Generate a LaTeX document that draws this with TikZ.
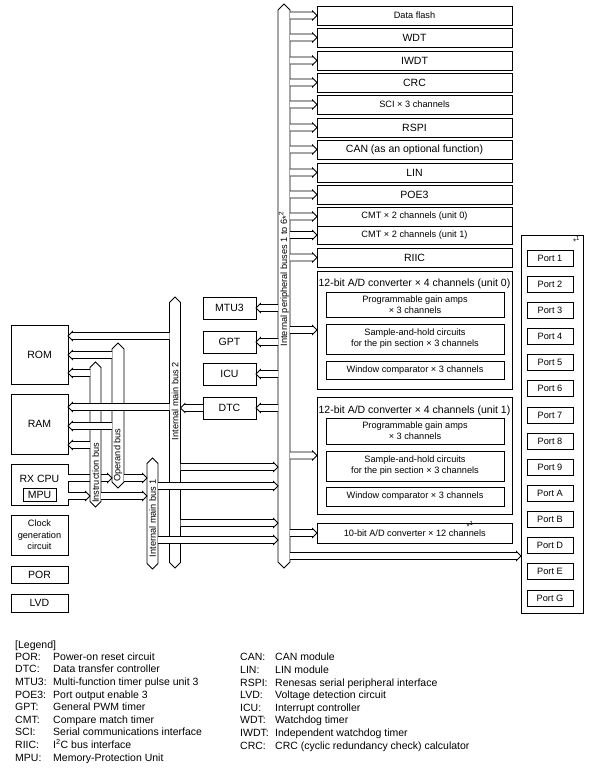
\documentclass[tikz,border=0pt]{standalone}
\usepackage{fontspec}
\setmainfont{Liberation Sans}
\usetikzlibrary{calc}
\tikzset{
  lw/.style={line width=0.75pt},
  big/.style={font=\fontsize{10.5}{12.5}\selectfont},
  small/.style={font=\fontsize{9.2}{11.2}\selectfont},
  box/.style={draw, lw, inner sep=0pt, outer sep=0pt, align=center, fill=white},
  busbody/.style={inner sep=0pt, outer sep=0pt},
  busline/.style={draw, lw, fill=white, line join=miter},
  barr/.style={draw, lw, fill=white, line join=miter},
  buslabel/.style={small, rotate=90, inner sep=0pt},
  note/.style={font=\fontsize{8}{8}\selectfont, inner sep=0pt},
  legtext/.style={anchor=base west, inner sep=0pt, font=\fontsize{10.5}{12.5}\selectfont},
}
\newcommand\starnote[1]{\raisebox{-0.35ex}{*}\textsuperscript{#1}}
\newcommand\boxat[7]{\node[box,#6,minimum width={(#4)-(#2)},minimum height={(#5)-(#3)}] (#1) at ({((#2)+(#4))/2},{((#3)+(#5))/2}) {#7};}
\newcommand\busat[6]{%
  \node[busbody,minimum width={(#4)-(#2)},minimum height={(#5)-(#3)}] (#1) at ({((#2)+(#4))/2},{((#3)+(#5))/2}) {};
  \path[busline] (#1.north) -- ($(#1.north east)+(0,#6)$) -- ($(#1.south east)+(0,-#6)$) -- (#1.south) -- ($(#1.south west)+(0,-#6)$) -- ($(#1.north west)+(0,#6)$) -- cycle;}
\newcommand\barrow[2]{%
  \path[barr] let \p1=(#1), \p2=(#2), \n1={ifthenelse(\x2>\x1,1,-1)} in
    (\x1,\y1+3.5pt) -- (\x2-\n1*4.5,\y1+3.5pt) -- (\x2-\n1*4.5,\y1+4.5pt) -- (\x2,\y1)
    -- (\x2-\n1*4.5,\y1-4.5pt) -- (\x2-\n1*4.5,\y1-3.5pt) -- (\x1,\y1-3.5pt);}
\begin{document}
\begin{tikzpicture}[x=1pt,y=-1pt]
\useasboundingbox (0,0) rectangle (593,772);

% ---------- buses ----------
\busat{pb}{278}{4}{290}{568}{6}
\busat{mb2}{169.5}{297}{180.5}{568}{5.5}
\busat{mb1}{147}{458}{158}{569}{5.5}
\busat{ob}{112}{343}{124}{488}{6}

% ---------- left blocks ----------
\boxat{rom}{11}{325}{68}{384}{big}{ROM}
\boxat{ram}{11}{394}{68}{454}{big}{RAM}
\boxat{cpu}{11}{464}{68}{505}{big}{}
\node[big] (cpul) at (39.5,479) {RX CPU};
\boxat{mpu}{23}{488}{56}{501}{big}{MPU}
\boxat{cgc}{11}{515}{68}{555}{font=\fontsize{9.2}{11.5}\selectfont}{Clock\\generation\\circuit}
\boxat{por}{11}{566}{68}{583}{big}{POR}
\boxat{lvd}{11}{594}{68}{612}{big}{LVD}

% CPU -> operand bus (passes behind the instruction bus)
\barrow{cpu.east |- 0,478}{ob.west |- 0,478}
\busat{ib}{90}{362}{101}{507}{5.5}

% ---------- peripheral blocks ----------
\boxat{df}{317}{6}{512}{25}{small}{Data flash}
\boxat{wdt}{317}{28}{512}{47}{big}{WDT}
\boxat{iwdt}{317}{51}{512}{70}{big}{IWDT}
\boxat{crc}{317}{73}{512}{92}{big}{CRC}
\boxat{sci}{317}{95}{512}{114}{small}{SCI × 3 channels}
\boxat{rspi}{317}{118}{512}{137}{big}{RSPI}
\boxat{can}{317}{140}{512}{159}{big}{CAN (as an optional function)}
\boxat{lin}{317}{163}{512}{182}{big}{LIN}
\boxat{poe}{317}{185}{512}{204}{big}{POE3}
\boxat{cmta}{317}{207}{512}{226}{small}{CMT × 2 channels (unit 0)}
\boxat{cmtb}{317}{226}{512}{244}{small}{CMT × 2 channels (unit 1)}
\boxat{riic}{317}{248}{512}{267}{big}{RIIC}

\boxat{adca}{317}{271}{512.5}{389}{}{}
\node[big] (adcat) at (414.5,284) {12-bit A/D converter × 4 channels (unit 0)};
\boxat{pgaa}{326}{292}{504}{317}{small}{Programmable gain amps\\× 3 channels}
\boxat{sha}{326}{324}{504}{354}{small}{Sample-and-hold circuits\\for the pin section × 3 channels}
\boxat{wca}{326}{361}{504}{379}{small}{Window comparator × 3 channels}

\boxat{adcb}{317}{397}{512.5}{514}{}{}
\node[big] (adcbt) at (414.5,411) {12-bit A/D converter × 4 channels (unit 1)};
\boxat{pgab}{326}{418}{504}{444}{small}{Programmable gain amps\\× 3 channels}
\boxat{shb}{326}{451}{504}{481}{small}{Sample-and-hold circuits\\for the pin section × 3 channels}
\boxat{wcb}{326}{487}{504}{506}{small}{Window comparator × 3 channels}

\boxat{adcc}{317}{523}{512.5}{543}{small}{10-bit A/D converter × 12 channels}
\node[note] (adccn) at (470,525.5) {\starnote{1}};

\boxat{mtu}{203}{297}{256}{319}{big}{MTU3}
\boxat{gpt}{203}{331}{256}{353}{big}{GPT}
\boxat{icu}{203}{363}{256}{385}{big}{ICU}
\boxat{dtc}{203}{397}{256}{419}{big}{DTC}

% ---------- ports ----------
\boxat{ports}{521}{235}{583}{613}{}{}
\node[note] (portsn) at (576.5,240.5) {\starnote{1}};
\foreach \t [count=\i from 0] in {1,2,3,4,5,6,7,8,9,A,B,D,E,G} {
  \pgfmathsetmacro\yc{258+26.15*\i}
  \boxat{port\t}{527}{\yc-8}{573}{\yc+8}{small}{Port \t}
}

% ---------- connectors ----------
\foreach \b in {df,wdt,iwdt,crc,sci,rspi,can,lin,poe,riic,adca,adcb,adcc} {
  \barrow{pb.east |- \b.west}{\b.west}
}
\barrow{pb.east |- 0,216.5}{cmta.west |- 0,216.5}
\barrow{pb.east |- 0,235}{cmtb.west |- 0,235}
\barrow{pb.east |- 0,556}{ports.west |- 0,556}
\foreach \b in {mtu,gpt,icu,dtc} {
  \barrow{pb.west |- \b.east}{\b.east}
}
\barrow{dtc.west}{mb2.east |- dtc.west}

\barrow{mb2.west |- 0,336}{rom.east |- 0,336}
\barrow{ob.west |- 0,355}{rom.east |- 0,355}
\barrow{ib.west |- 0,373}{rom.east |- 0,373}
\barrow{mb2.west |- 0,407}{ram.east |- 0,407}
\barrow{ob.west |- 0,426}{ram.east |- 0,426}
\barrow{ib.west |- 0,445}{ram.east |- 0,445}

\barrow{ob.east |- 0,478}{mb1.west |- 0,478}
\barrow{cpu.east |- 0,496}{ib.west |- 0,496}
\barrow{ib.east |- 0,496}{mb1.west |- 0,496}

\barrow{mb2.east |- 0,467}{pb.west |- 0,467}
\barrow{mb2.east |- 0,523}{pb.west |- 0,523}
\barrow{mb1.east |- 0,486}{pb.west |- 0,486}
\barrow{mb1.east |- 0,540}{pb.west |- 0,540}

% ---------- bus labels ----------
\node[buslabel] (pbl) at (284,279) {Internal peripheral buses 1 to 6\starnote{2}};
\node[buslabel] (mb2l) at (175,401) {Internal main bus 2};
\node[buslabel] (mb1l) at (152.5,518) {Internal main bus 1};
\node[buslabel] (ibl) at (95.5,473) {Instruction bus};
\node[buslabel] (obl) at (118,455) {Operand bus};

% ---------- legend ----------
\node[legtext] (legh) at (15,648) {[Legend]};
\foreach \lab/\des [count=\i from 0] in {POR:/Power-on reset circuit, DTC:/Data transfer controller, MTU3:/Multi-function timer pulse unit 3, POE3:/Port output enable 3, GPT:/General PWM timer, CMT:/Compare match timer, SCI:/Serial communications interface, RIIC:/I\textsuperscript{2}C bus interface, MPU:/Memory-Protection Unit} {
  \node[legtext] (ll\i) at (15,{660.3+12.6*\i}) {\lab};
  \node[legtext] (ld\i) at (53,{660.3+12.6*\i}) {\des};
}
\foreach \lab/\des [count=\i from 0] in {CAN:/CAN module, LIN:/LIN module, RSPI:/Renesas serial peripheral interface, LVD:/Voltage detection circuit, ICU:/Interrupt controller, WDT:/Watchdog timer, IWDT:/Independent watchdog timer, CRC:/CRC (cyclic redundancy check) calculator} {
  \node[legtext] (rl\i) at (240,{660.8+12.6*\i}) {\lab};
  \node[legtext] (rd\i) at (275,{660.8+12.6*\i}) {\des};
}
\end{tikzpicture}
\end{document}
